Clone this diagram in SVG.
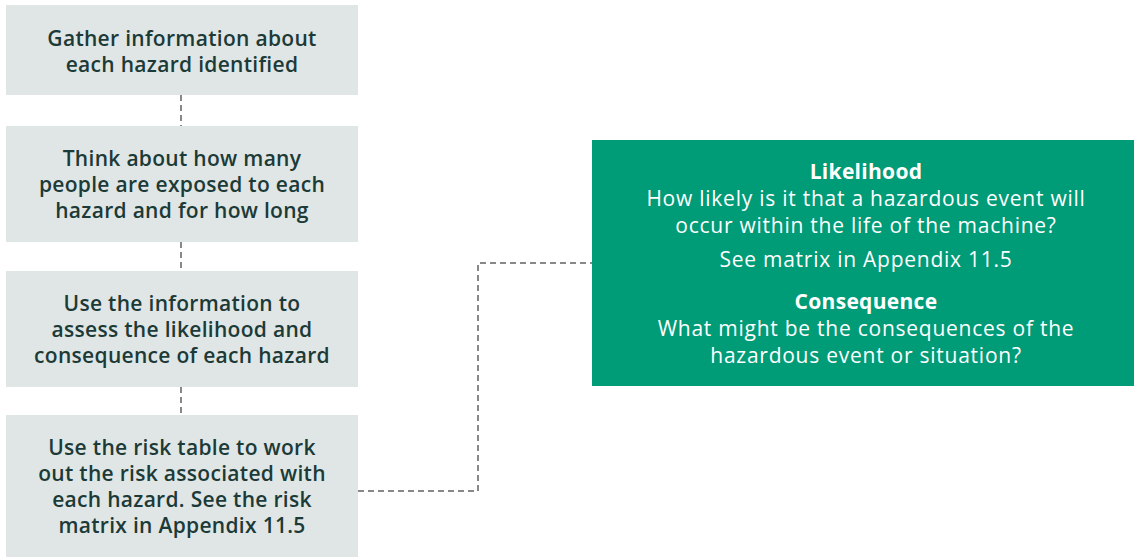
<svg xmlns="http://www.w3.org/2000/svg" width="1134" height="557" viewBox="0 0 1134 557">
<style>
.box{fill:#e0e6e5}
.t{font-family:"Open Sans","Liberation Sans",sans-serif;font-size:21px;font-weight:600;letter-spacing:0.3px;fill:#1c3a37;text-anchor:middle}
.w{font-family:"Open Sans","Liberation Sans",sans-serif;font-size:21px;font-weight:400;letter-spacing:0.75px;fill:#ffffff;text-anchor:middle}
.b{font-weight:700;letter-spacing:0.3px}
.c{fill:none;stroke:#888888;stroke-width:2;stroke-dasharray:6,4}
</style>
<rect width="1134" height="557" fill="#ffffff"/>
<g id="connectors">
<path class="c" d="M181 95V126"/>
<path class="c" d="M181 242V271"/>
<path class="c" d="M181 387V415"/>
<path class="c" d="M358 491H478V263H592"/>
</g>
<g id="n1"><rect class="box" x="6" y="5" width="352" height="90"/>
<text class="t" x="182" y="46">Gather information about</text>
<text class="t" x="182" y="72">each hazard identified</text></g>
<g id="n2"><rect class="box" x="6" y="126" width="352" height="116"/>
<text class="t" x="182" y="166">Think about how many</text>
<text class="t" x="182" y="192">people are exposed to each</text>
<text class="t" x="182" y="218">hazard and for how long</text></g>
<g id="n3"><rect class="box" x="6" y="271" width="352" height="116"/>
<text class="t" x="182" y="311">Use the information to</text>
<text class="t" x="182" y="337">assess the likelihood and</text>
<text class="t" x="182" y="363">consequence of each hazard</text></g>
<g id="n4"><rect class="box" x="6" y="415" width="352" height="142"/>
<text class="t" x="182" y="455">Use the risk table to work</text>
<text class="t" x="182" y="481">out the risk associated with</text>
<text class="t" x="182" y="507">each hazard. See the risk</text>
<text class="t" x="182" y="533">matrix in Appendix 11.5</text></g>
<g id="n5"><rect x="592" y="140" width="542" height="246" fill="#009b77"/>
<text class="w b" x="866" y="179">Likelihood</text>
<text class="w" x="866" y="206">How likely is it that a hazardous event will</text>
<text class="w" x="866" y="233">occur within the life of the machine?</text>
<text class="w" x="866" y="267">See matrix in Appendix 11.5</text>
<text class="w b" x="866" y="309">Consequence</text>
<text class="w" x="866" y="336">What might be the consequences of the</text>
<text class="w" x="866" y="363">hazardous event or situation?</text></g>
</svg>
